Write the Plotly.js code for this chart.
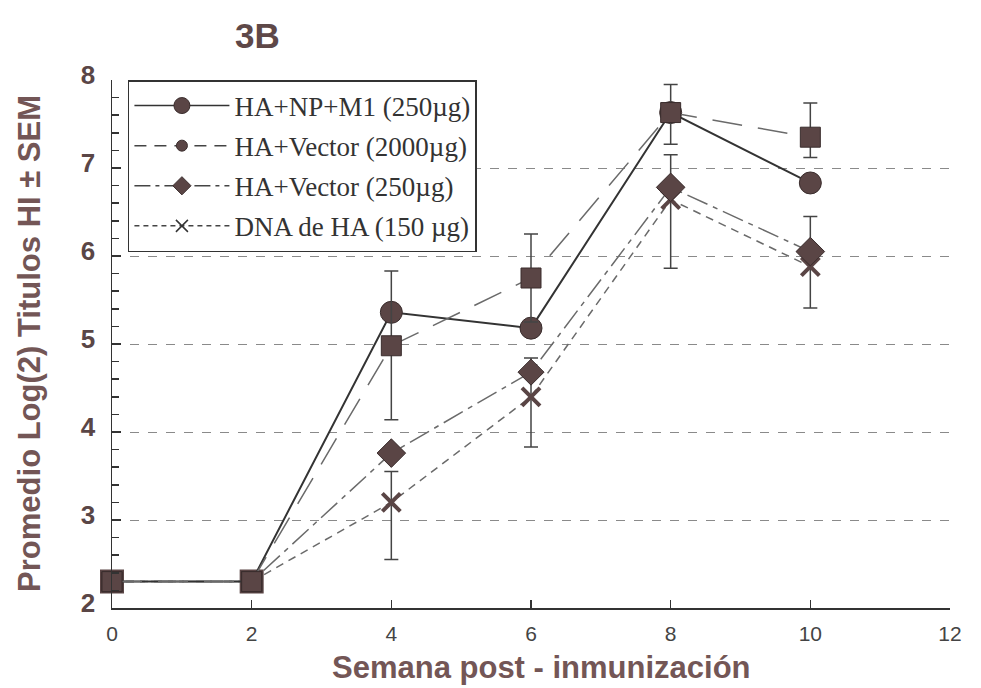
<!DOCTYPE html>
<html><head><meta charset="utf-8">
<script src="https://cdn.plot.ly/plotly-3.0.1.min.js"></script>
<style>body{margin:0;background:#fff}#chart{width:981px;height:688px}</style>
</head><body><div id="chart"></div>
<script>
// Data
var weeks = [0, 2, 4, 6, 8, 10];
var names = ["HA+NP+M1 (250µg)", "HA+Vector (2000µg)", "HA+Vector (250µg)", "DNA de HA (150 µg)"];
var npm1 = [2.3, 2.3, 5.36, 5.18, 7.63, 6.83];
var vec2000 = [2.3, 2.3, 4.98, 5.75, 7.63, 7.35];
var vec2000Plus = [0, 0, 0.85, 0.5, 0.32, 0.39];
var vec2000Minus = [0, 0, 0.84, 0.5, 0.36, 0.23];
var vec250 = [2.3, 2.3, 3.76, 4.68, 6.78, 6.05];
var dnaHA = [2.3, 2.3, 3.2, 4.4, 6.64, 5.88];
var dnaPlus = [0, 0, 0.35, 0.44, 0.51, 0.57];
var dnaMinus = [0, 0, 0.65, 0.57, 0.78, 0.47];
var xTicks = [0, 2, 4, 6, 8, 10, 12];
var yTicks = [2, 3, 4, 5, 6, 7, 8];
var gridVals = [3, 4, 5, 6, 7];

var mk = "#5a4545", mkLine = "#3a2d2d";
var errStyle = function(p, m){ return {type:'data', symmetric:false, array:p, arrayminus:m, color:'#444', thickness:1.5, width:7}; };

var traces = [
  // plotted series (drawing order: X, diamond, circle, square)
  {x: weeks, y: dnaHA, mode:'lines+markers', showlegend:false, cliponaxis:false,
   line:{color:'#6a6a6a', width:1.5, dash:'8px,6px'},
   marker:{symbol:['square','square','x-thin','x-thin','x-thin','x-thin'], size:[20,20,18,18,18,18], opacity:1, color:mk, line:{color:mk, width:4}},
   error_y: errStyle(dnaPlus, dnaMinus)},
  {x: weeks, y: vec250, mode:'lines+markers', showlegend:false, cliponaxis:false,
   line:{color:'#6a6a6a', width:1.5, dash:'22px,6px,5px,6px'},
   marker:{symbol:['square','square','diamond','diamond','diamond','diamond'], size:[20,20,22,20,22,22], opacity:1, color:mk, line:{color:mkLine, width:1}}},
  {x: weeks, y: npm1, mode:'lines+markers', showlegend:false, cliponaxis:false,
   line:{color:'#333', width:2},
   marker:{symbol:['square','square','circle','circle','circle','circle'], size:[20,20,22,22,22,22], opacity:1, color:mk, line:{color:mkLine, width:1}}},
  {x: weeks, y: vec2000, mode:'lines+markers', showlegend:false, cliponaxis:false,
   line:{color:'#6a6a6a', width:1.5, dash:'30px,16px'},
   marker:{symbol:'square', size:20, opacity:1, color:mk, line:{color:mkLine, width:1}},
   error_y: errStyle(vec2000Plus, vec2000Minus)},
  // legend entries
  {x:[null], y:[null], name:names[0], mode:'lines+markers', legendgroup:'a', line:{color:'#333', width:1.5},
   marker:{symbol:'circle', size:16, color:mk, line:{color:mkLine, width:1}}},
  {x:[null], y:[null], name:names[1], mode:'lines+markers', legendgroup:'b', line:{color:'#444', width:1.5, dash:'12px,8px'},
   marker:{symbol:'circle', size:11, color:mk, line:{color:mkLine, width:1}}},
  {x:[null], y:[null], name:names[2], mode:'lines+markers', legendgroup:'c', line:{color:'#444', width:1.5, dash:'16px,5px,4px,5px'},
   marker:{symbol:'diamond', size:14, color:mk, line:{color:mkLine, width:1}}},
  {x:[null], y:[null], name:names[3], mode:'lines+markers', legendgroup:'d', line:{color:'#444', width:1.5, dash:'5px,4px'},
   marker:{symbol:'x-thin', size:12, color:'#333', line:{color:'#333', width:1.5}}}
];

var titleColor = '#735656';
var layout = {
  width:981, height:688,
  margin:{l:112, r:31, t:80, b:80},
  paper_bgcolor:'#fff', plot_bgcolor:'#fff',
  font:{family:'Liberation Sans, Arial, sans-serif', color:'#444'},
  showlegend:true,
  legend:{x:0.019, y:1, xanchor:'left', yanchor:'top', bgcolor:'#fff', bordercolor:'#333', borderwidth:1.5,
    font:{family:'Liberation Serif, Times New Roman, serif', size:27, color:'#333'},
    traceorder:'grouped', tracegroupgap:2, itemwidth:95},
  xaxis:{range:[0,12], tickvals:xTicks, ticks:'inside', ticklen:8, tickcolor:'#333', tickwidth:1.5,
    showline:true, linecolor:'#333', linewidth:1.5, showgrid:false, zeroline:false,
    tickfont:{size:21, color:'#444'}, ticklabelstandoff:6},
  yaxis:{range:[2,8], tickvals:yTicks, ticks:'inside', ticklen:9, tickcolor:'#333', tickwidth:1.5,
    minor:{dtick:0.2, ticks:'inside', ticklen:7, tickcolor:'#333', tickwidth:1.5},
    showline:true, linecolor:'#333', linewidth:1.5, showgrid:false, zeroline:false,
    tickfont:{size:26, color:'#5a4646', family:'Liberation Sans, Arial, sans-serif', weight:'bold'},
    ticklabelstandoff:10, ticklabelshift:-5},
  yaxis2:{overlaying:'y', matches:'y', range:[2,8], tickvals:gridVals, showticklabels:false, ticks:'',
    showgrid:true, gridcolor:'#8a8a8a', gridwidth:1, griddash:'9px,9px', zeroline:false, showline:false},
  annotations:[
    {text:'3B', xref:'paper', yref:'paper', x:0.174, y:1.085, xanchor:'center', yanchor:'middle', showarrow:false,
     font:{size:35, color:'#5e4848', family:'Liberation Sans, Arial', weight:'bold'}},
    {text:'Semana post - inmunización', xref:'paper', yref:'paper', x:0.512, y:-0.1136, xanchor:'center', yanchor:'middle', showarrow:false,
     font:{size:31, color:titleColor, family:'Liberation Sans, Arial', weight:'bold'}},
    {text:'Promedio Log(2) Titulos HI ± SEM', xref:'paper', yref:'paper', x:-0.0979, y:0.502, xanchor:'center', yanchor:'middle', textangle:-90, showarrow:false,
     font:{size:31, color:titleColor, family:'Liberation Sans, Arial', weight:'bold'}}
  ]
};
// dummy trace on y2 so the overlay grid axis is drawn
traces.unshift({x:[null], y:[null], yaxis:'y2', showlegend:false, hoverinfo:'skip', mode:'markers'});
Plotly.newPlot('chart', traces, layout, {displayModeBar:false, staticPlot:true});
</script></body></html>
